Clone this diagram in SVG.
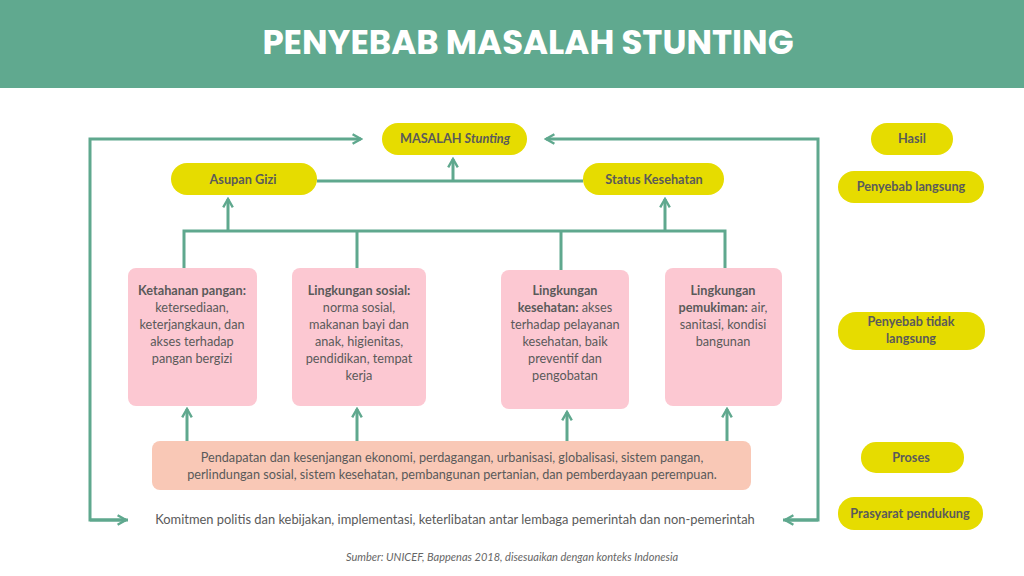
<svg xmlns="http://www.w3.org/2000/svg" width="1024" height="576" viewBox="0 0 1024 576">
<defs>
<style>
.pill{fill:#e6dc00}
.box{fill:#fcc8d2}
.t{font-family:"Lato","Liberation Sans",sans-serif;font-size:12.7px;fill:#5a5a5a;text-anchor:middle}
.b{font-weight:bold}
.ln{stroke:#5fa88e;stroke-width:3;fill:none}
</style>
<marker id="ah" viewBox="0 0 10 10" refX="8" refY="5" markerWidth="4" markerHeight="4" orient="auto"><path d="M1,1 L8,5 L1,9" fill="none" stroke="#5fa88e" stroke-width="2"/></marker>
</defs>
<rect width="1024" height="576" fill="#fff"/>
<rect width="1024" height="88" fill="#60a98f"/>
<text x="528" y="54" font-family="Poppins,'Open Sans','Liberation Sans',sans-serif" font-weight="bold" font-size="34" fill="#fff" text-anchor="middle">PENYEBAB MASALAH STUNTING</text>
<g id="connectors">
<path class="ln" d="M128,520 H90 V139 H361" marker-end="url(#ah)"/>
<path class="ln" d="M90,520 H126" marker-end="url(#ah)"/>
<path class="ln" d="M783,520 H818 V139 H546" marker-end="url(#ah)"/>
<path class="ln" d="M818,520 H785" marker-end="url(#ah)"/>
<path class="ln" d="M317,181 H583"/>
<path class="ln" d="M453,181 V159" marker-end="url(#ah)"/>
<path class="ln" d="M184,268 V231 H725 V268 M357,231 V268 M561,231 V270"/>
<path class="ln" d="M228,231 V199" marker-end="url(#ah)"/>
<path class="ln" d="M665,231 V199" marker-end="url(#ah)"/>
<path class="ln" d="M187,441 V409" marker-end="url(#ah)"/>
<path class="ln" d="M357,441 V409" marker-end="url(#ah)"/>
<path class="ln" d="M567,441 V412" marker-end="url(#ah)"/>
<path class="ln" d="M727,441 V409" marker-end="url(#ah)"/>
</g>
<g id="masalah"><rect class="pill" x="382" y="123" width="145" height="32" rx="16"/><text class="t b" x="455" y="143">MASALAH <tspan font-style="italic">Stunting</tspan></text></g>
<g id="asupan"><rect class="pill" x="171" y="163" width="146" height="32" rx="16"/><text class="t b" x="243" y="184">Asupan Gizi</text></g>
<g id="status"><rect class="pill" x="583" y="163" width="141" height="32" rx="16"/><text class="t b" x="654" y="184">Status Kesehatan</text></g>
<g id="ketahanan"><rect class="box" x="128" y="268" width="129" height="138" rx="8"/>
<text class="t" x="192" y="295"><tspan class="b">Ketahanan pangan:</tspan><tspan x="192" dy="17">ketersediaan,</tspan><tspan x="192" dy="17">keterjangkaun, dan</tspan><tspan x="192" dy="17">akses terhadap</tspan><tspan x="192" dy="17">pangan bergizi</tspan></text></g>
<g id="sosial"><rect class="box" x="292" y="268" width="134" height="138" rx="8"/>
<text class="t" x="359" y="295"><tspan class="b">Lingkungan sosial:</tspan><tspan x="359" dy="17">norma sosial,</tspan><tspan x="359" dy="17">makanan bayi dan</tspan><tspan x="359" dy="17">anak, higienitas,</tspan><tspan x="359" dy="17">pendidikan, tempat</tspan><tspan x="359" dy="17">kerja</tspan></text></g>
<g id="kesehatan"><rect class="box" x="501" y="270" width="128" height="139" rx="8"/>
<text class="t" x="565" y="295"><tspan class="b">Lingkungan</tspan><tspan x="565" dy="17"><tspan class="b">kesehatan:</tspan> akses</tspan><tspan x="565" dy="17">terhadap pelayanan</tspan><tspan x="565" dy="17">kesehatan, baik</tspan><tspan x="565" dy="17">preventif dan</tspan><tspan x="565" dy="17">pengobatan</tspan></text></g>
<g id="pemukiman"><rect class="box" x="665" y="268" width="117" height="138" rx="8"/>
<text class="t" x="723" y="295"><tspan class="b">Lingkungan</tspan><tspan x="723" dy="17"><tspan class="b">pemukiman:</tspan> air,</tspan><tspan x="723" dy="17">sanitasi, kondisi</tspan><tspan x="723" dy="17">bangunan</tspan></text></g>
<g id="proses-box"><rect x="152" y="441" width="599" height="49" rx="8" fill="#f9c8b6"/>
<text class="t" x="452" y="462">Pendapatan dan kesenjangan ekonomi, perdagangan, urbanisasi, globalisasi, sistem pangan,<tspan x="452" dy="17">perlindungan sosial, sistem kesehatan, pembangunan pertanian, dan pemberdayaan perempuan.</tspan></text></g>
<g id="komitmen"><text class="t" x="455" y="524" style="font-size:12.9px">Komitmen politis dan kebijakan, implementasi, keterlibatan antar lembaga pemerintah dan non-pemerintah</text></g>
<g id="legend-hasil"><rect class="pill" x="871" y="123" width="82" height="32" rx="16"/><text class="t b" x="912" y="143">Hasil</text></g>
<g id="legend-langsung"><rect class="pill" x="838" y="171" width="146" height="32" rx="16"/><text class="t b" x="911" y="191">Penyebab langsung</text></g>
<g id="legend-tidak"><rect class="pill" x="838" y="312" width="147" height="38" rx="18"/><text class="t b" x="911" y="326">Penyebab tidak<tspan x="911" dy="17">langsung</tspan></text></g>
<g id="legend-proses"><rect class="pill" x="861" y="442" width="103" height="31" rx="15"/><text class="t b" x="911" y="462">Proses</text></g>
<g id="legend-prasyarat"><rect class="pill" x="838" y="497" width="145" height="33" rx="16"/><text class="t b" x="910" y="518">Prasyarat pendukung</text></g>
<text x="512" y="561" font-family="Lato,'Liberation Sans',sans-serif" font-size="11" font-style="italic" fill="#666" text-anchor="middle">Sumber: UNICEF, Bappenas 2018, disesuaikan dengan konteks Indonesia</text>
</svg>
